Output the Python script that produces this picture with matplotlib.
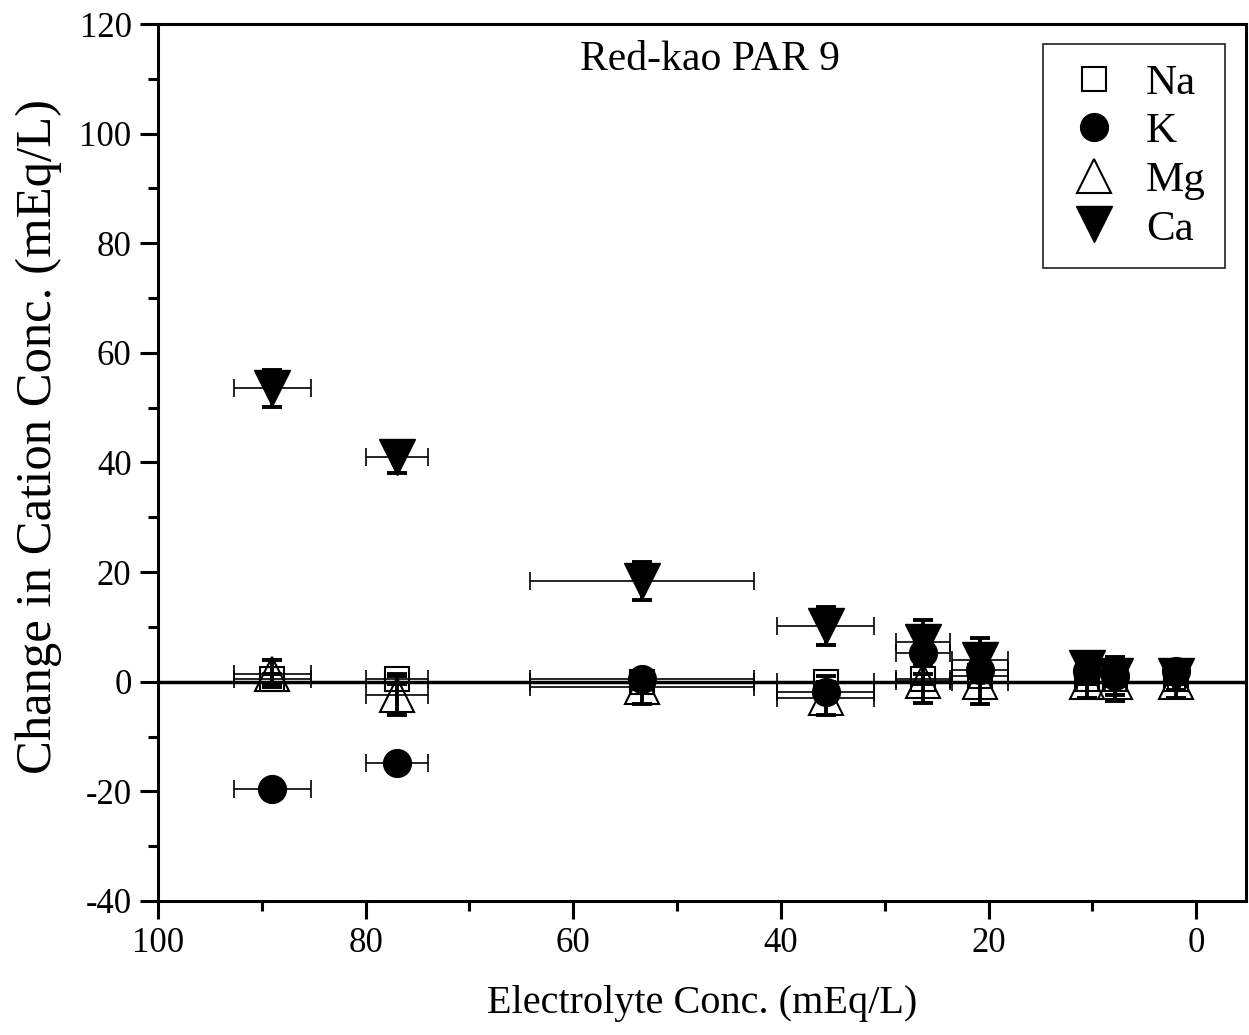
import matplotlib
matplotlib.use("Agg")
import matplotlib.pyplot as plt
from matplotlib.ticker import MultipleLocator

plt.rcParams['font.family'] = ['Liberation Serif', 'DejaVu Serif']
plt.rcParams['axes.unicode_minus'] = False

# Data
electrolyte = [89.0, 77.0, 53.4, 35.7, 26.3, 20.8, 10.5, 7.8, 1.9]
electrolyte_err = [3.7, 3.0, 10.8, 4.7, 2.6, 2.7, 1.0, 1.0, 0.8]

na = [0.5, 0.5, 0.0, 0.0, 0.5, 1.0, 0.5, 0.5, 0.5]
na_err = [1.0, 1.0, 1.0, 1.0, 1.0, 1.0, 1.0, 1.0, 1.0]
k = [-19.6, -14.8, 0.5, -1.8, 5.2, 2.2, 2.0, 1.0, 2.0]
k_err = [1.5, 1.5, 1.5, 1.5, 1.5, 1.5, 1.5, 1.5, 1.5]
mg = [1.5, -2.5, -1.0, -3.0, 0.2, 0.0, 0.0, 0.0, 0.0]
mg_err = [2.5, 3.5, 3.0, 3.0, 4.0, 4.0, 3.0, 3.5, 3.0]
ca = [53.5, 41.0, 18.4, 10.2, 7.2, 4.0, 2.5, 1.1, 1.0]
ca_err = [3.3, 3.0, 3.5, 3.5, 4.0, 4.0, 3.0, 3.5, 2.5]

title = "Red-kao PAR 9"
xlabel = "Electrolyte Conc. (mEq/L)"
ylabel = "Change in Cation Conc. (mEq/L)"

fig = plt.figure(figsize=(12.49, 10.35), dpi=100)
ax = fig.add_axes([0.1265, 0.1295, 0.8711, 0.8473])

ax.axhline(0, color='black', lw=2.5, zorder=1)

series = [
    ("Na", na, na_err, dict(marker='s', ms=17, mfc='none', mec='black', mew=1.5)),
    ("K", k, k_err, dict(marker='o', ms=20, mfc='black', mec='black', mew=1.0)),
    ("Mg", mg, mg_err, dict(marker='^', ms=25, mfc='none', mec='black', mew=1.5)),
    ("Ca", ca, ca_err, dict(marker='v', ms=26, mfc='black', mec='black', mew=1.0)),
]

handles = []
for i, (name, vals, verr, style) in enumerate(series):
    ax.errorbar(electrolyte, vals, xerr=electrolyte_err, fmt='none', ecolor='black',
                elinewidth=1.2, capsize=6.5, capthick=1.2, zorder=2 + i)
    ax.errorbar(electrolyte, vals, yerr=verr, fmt='none', ecolor='black',
                elinewidth=2.8, capsize=7, capthick=2.8, zorder=2 + i)
    h, = ax.plot(electrolyte, vals, linestyle='none', label=name, zorder=6 + i, **style)
    handles.append(h)

ax.set_xlim(100, -4.8)
ax.set_ylim(-40, 120)
ax.xaxis.set_major_locator(MultipleLocator(20))
ax.xaxis.set_minor_locator(MultipleLocator(10))
ax.yaxis.set_major_locator(MultipleLocator(20))
ax.yaxis.set_minor_locator(MultipleLocator(10))

for sp in ax.spines.values():
    sp.set_linewidth(2.2)

ax.tick_params(which='both', direction='out', top=False, right=False, width=2.2)
ax.tick_params(which='major', length=13, labelsize=25, pad=6)
ax.tick_params(which='minor', length=7)

ax.set_xlabel(xlabel, fontsize=29, labelpad=18)
ax.set_ylabel(ylabel, fontsize=36.5)
ax.yaxis.set_label_coords(-0.110, 0.530)
ax.yaxis.label.set_verticalalignment('center')

ax.text(0.507, 0.959, title, transform=ax.transAxes, ha='center', va='center', fontsize=30)

leg = ax.legend(handles=handles, loc='upper right', bbox_to_anchor=(0.981, 0.977),
                borderaxespad=0, fontsize=31, frameon=True, fancybox=False,
                handletextpad=0.45, labelspacing=0.22, borderpad=0.45, handlelength=1.5)
leg.get_frame().set_edgecolor('black')
leg.get_frame().set_linewidth(1.3)

fig.savefig("out.png", dpi=100)
